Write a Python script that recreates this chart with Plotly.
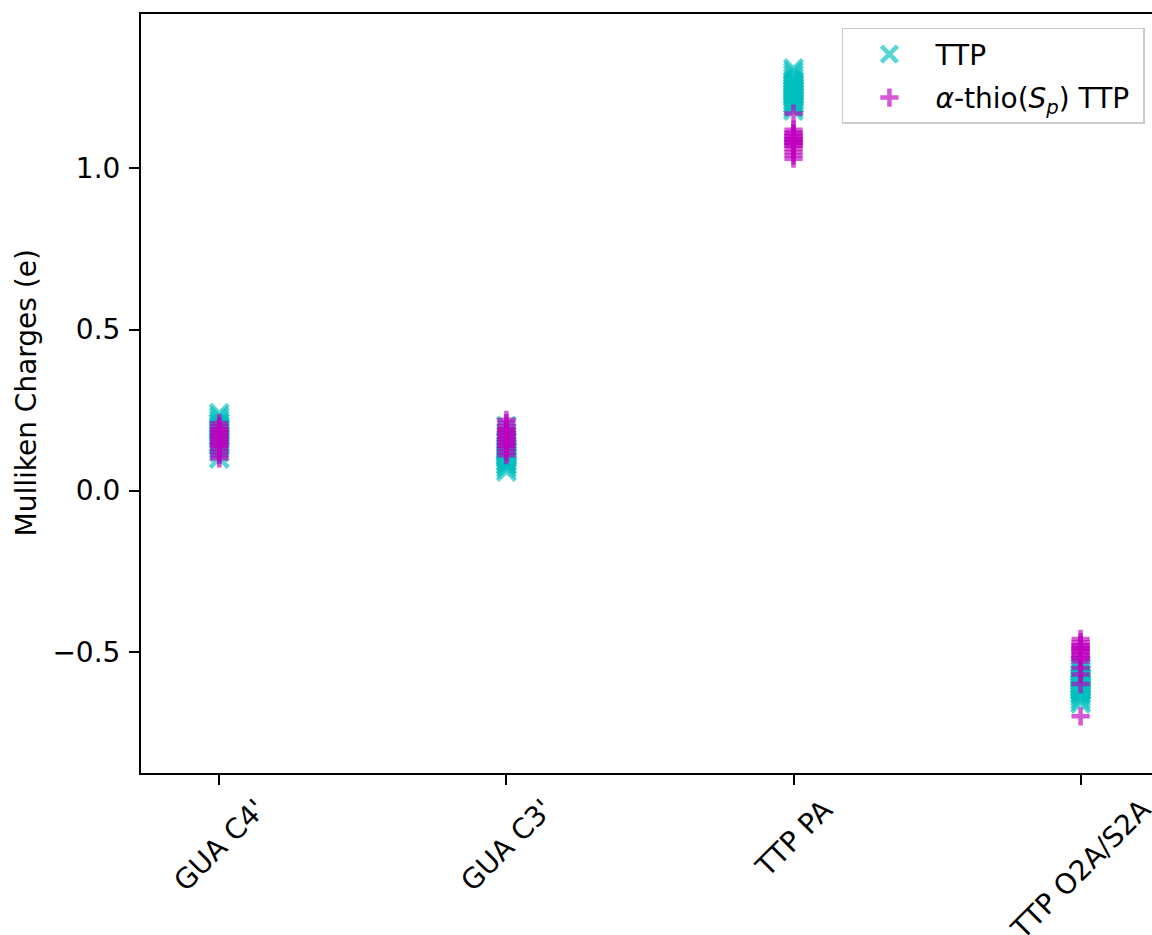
import plotly.graph_objects as go

# Atom labels along the x axis
categories = ["GUA C4'", "GUA C3'", "TTP PA", "TTP O2A/S2A"]

# Mulliken charges (e) sampled over the trajectory, one list per atom
ttp_c4 = [0.17, 0.19, 0.15, 0.21, 0.18, 0.13, 0.20, 0.16, 0.22, 0.14, 0.19, 0.17,
          0.24, 0.12, 0.18, 0.20, 0.15, 0.23, 0.16, 0.10, 0.19, 0.21, 0.14, 0.17]
ttp_c3 = [0.12, 0.09, 0.14, 0.11, 0.16, 0.08, 0.13, 0.10, 0.18, 0.12, 0.07, 0.15,
          0.11, 0.20, 0.09, 0.13, 0.06, 0.14, 0.10, 0.17, 0.12, 0.08, 0.15, 0.11]
ttp_pa = [1.24, 1.21, 1.27, 1.23, 1.19, 1.26, 1.22, 1.29, 1.25, 1.20, 1.24, 1.31,
          1.22, 1.18, 1.27, 1.23, 1.25, 1.21, 1.28, 1.24, 1.20, 1.26, 1.23, 1.30]
ttp_o2a = [-0.60, -0.58, -0.62, -0.57, -0.61, -0.64, -0.59, -0.55, -0.63, -0.60, -0.66, -0.58,
           -0.61, -0.56, -0.62, -0.59, -0.65, -0.57, -0.60, -0.54, -0.63, -0.61, -0.58, -0.62]

thio_c4 = [0.15, 0.18, 0.13, 0.20, 0.16, 0.12, 0.19, 0.14, 0.17, 0.21, 0.11, 0.16,
           0.18, 0.15, 0.10, 0.19, 0.14, 0.17]
thio_c3 = [0.16, 0.19, 0.14, 0.22, 0.17, 0.13, 0.20, 0.15, 0.18, 0.12, 0.16, 0.19,
           0.14, 0.21, 0.17, 0.15, 0.11, 0.18]
thio_pa = [1.09, 1.07, 1.11, 1.08, 1.10, 1.06, 1.12, 1.09, 1.05, 1.08, 1.10, 1.07,
           1.11, 1.04, 1.09, 1.17, 1.08, 1.03]
thio_o2a = [-0.49, -0.51, -0.47, -0.50, -0.52, -0.48, -0.53, -0.49, -0.46, -0.51, -0.55, -0.50,
            -0.48, -0.52, -0.57, -0.49, -0.60, -0.70]

ytick_vals = [-0.5, 0.0, 0.5, 1.0]
ytick_text = ["\u22120.5", "0.0", "0.5", "1.0"]

series = [
    ("TTP", [ttp_c4, ttp_c3, ttp_pa, ttp_o2a], "#00bfbf", "x-thin", 18),
    # trailing no-break space leaves room before the legend frame
    ("<i>\u03b1</i>-thio(<i>S</i><sub><i>p</i></sub>) TTP\u00a0",
     [thio_c4, thio_c3, thio_pa, thio_o2a], "#bf00bf", "cross-thin", 13),
]

FONT = "DejaVu Sans"
fig = go.Figure()

for name, groups, color, symbol, size in series:
    xs, ys = [], []
    for cat, vals in zip(categories, groups):
        xs.extend([cat] * len(vals))
        ys.extend(vals)
    fig.add_trace(go.Scatter(
        x=xs, y=ys, mode="markers", name=name,
        legendgroup=name,
        marker=dict(symbol=symbol, size=size, color=color, opacity=0.65,
                    line=dict(color=color, width=4.5)),
    ))

# Rotated category labels centred under each tick
for cat in categories:
    fig.add_annotation(
        x=cat, xref="x", y=0, yref="paper", yanchor="top", xanchor="center",
        yshift=-17, text=cat, textangle=-45, showarrow=False,
        font=dict(family=FONT, size=28, color="black"),
    )

# y-axis title
fig.add_annotation(
    x=0, xref="paper", xshift=-115, xanchor="center",
    y=0.5, yref="paper", yanchor="middle",
    text="Mulliken Charges (e)", textangle=-90, showarrow=False,
    font=dict(family=FONT, size=28, color="black"),
)

fig.update_layout(
    width=1152, height=935,
    margin=dict(l=141, r=0, t=14, b=162),
    paper_bgcolor="white", plot_bgcolor="white",
    font=dict(family=FONT, size=28, color="black"),
    showlegend=True,
    legend=dict(
        x=0.993, xanchor="right", y=0.9816, yanchor="top",
        bgcolor="rgba(255,255,255,0.8)", bordercolor="#cccccc", borderwidth=1.5,
        font=dict(family=FONT, size=28, color="black"),
        traceorder="grouped", tracegroupgap=4, itemwidth=82,
    ),
    xaxis=dict(
        type="category", categoryorder="array", categoryarray=categories,
        range=[-0.2727, 3.2487],
        showgrid=False, zeroline=False,
        showline=True, linecolor="black", linewidth=2, mirror=True,
        ticks="outside", ticklen=10, tickwidth=2, tickcolor="black",
        showticklabels=False,
    ),
    yaxis=dict(
        range=[-0.876, 1.479],
        tickvals=ytick_vals, ticktext=ytick_text,
        showgrid=False, zeroline=False,
        showline=True, linecolor="black", linewidth=2,
        ticks="outside", ticklen=10, tickwidth=2, tickcolor="black",
        ticklabelstandoff=3,
        tickfont=dict(family=FONT, size=28, color="black"),
    ),
)

fig.write_html("out.html")
